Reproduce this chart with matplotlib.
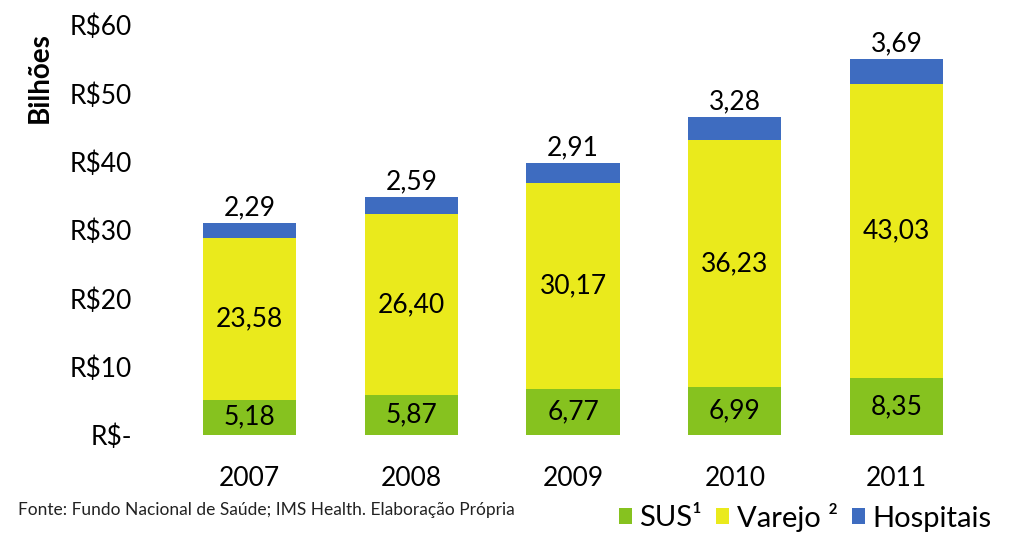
import matplotlib.pyplot as plt

plt.rcParams['font.family'] = ['Lato', 'DejaVu Sans']

years = ['2007', '2008', '2009', '2010', '2011']
sus = [5.18, 5.87, 6.77, 6.99, 8.35]
varejo = [23.58, 26.40, 30.17, 36.23, 43.03]
hospitais = [2.29, 2.59, 2.91, 3.28, 3.69]
yticks = [0, 10, 20, 30, 40, 50, 60]
ytick_labels = ['R$-', 'R$10', 'R$20', 'R$30', 'R$40', 'R$50', 'R$60']

c_sus = '#86c21f'
c_var = '#eaea1c'
c_hos = '#3e6cc0'

fig = plt.figure(figsize=(10.24, 5.48), dpi=100)
ax = fig.add_axes([140 / 1024, 113 / 548, 850 / 1024, 410 / 548])

x = list(range(len(years)))
w = 0.575
bottom2 = [a + b for a, b in zip(sus, varejo)]
ax.bar(x, sus, w, color=c_sus, label='SUS¹')
ax.bar(x, varejo, w, bottom=sus, color=c_var, label='Varejo ²')
ax.bar(x, hospitais, w, bottom=bottom2, color=c_hos, label='Hospitais')

def fmt(v):
    return f'{v:.2f}'.replace('.', ',')

for i in x:
    ax.text(i, sus[i] / 2, fmt(sus[i]), ha='center', va='center', fontsize=19)
    ax.text(i, sus[i] + varejo[i] / 2, fmt(varejo[i]), ha='center', va='center', fontsize=19)
    top = bottom2[i] + hospitais[i]
    ax.text(i, top + 0.4, fmt(hospitais[i]), ha='center', va='bottom', fontsize=19)

ax.set_xlim(-0.676, 4.577)
ax.set_ylim(0, 60)
ax.set_xticks(x)
ax.set_xticklabels(years, fontsize=19)
ax.set_yticks(yticks)
ax.set_yticklabels(ytick_labels, fontsize=19)
ax.tick_params(length=0)
ax.tick_params(axis='x', pad=22)
ax.tick_params(axis='y', pad=6)
for s in ax.spines.values():
    s.set_visible(False)

fig.text(40 / 1024, 1 - 78 / 548, 'Bilhões', rotation=90, ha='center', va='center',
         fontsize=20, fontweight='bold')
fig.text(18 / 1024, 1 - 510 / 548, 'Fonte: Fundo Nacional de Saúde; IMS Health. Elaboração Própria',
         ha='left', va='center', fontsize=12.5, color='#222222')

fig.legend(loc='center left', bbox_to_anchor=(604 / 1024, 1 - 517 / 548), ncol=3,
           frameon=False, fontsize=21, handlelength=0.45, handleheight=0.45,
           handletextpad=0.25, columnspacing=0.5, borderpad=0)

fig.savefig('out.png', dpi=100)
